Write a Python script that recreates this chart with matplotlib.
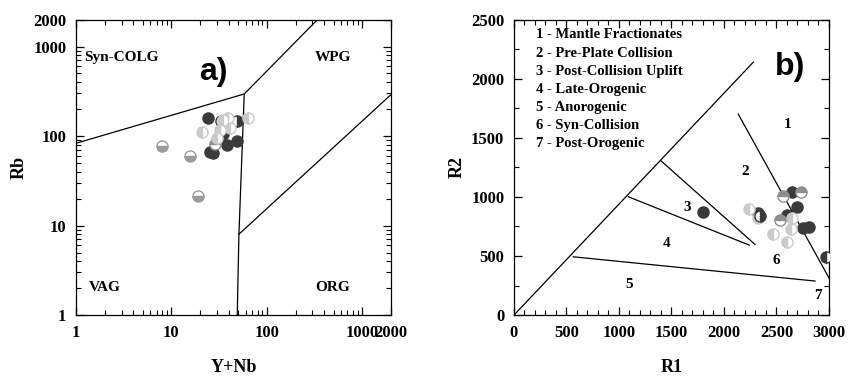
import matplotlib
matplotlib.use("Agg")
import matplotlib.pyplot as plt
from matplotlib.ticker import LogLocator, NullFormatter, FixedLocator, FixedFormatter, MultipleLocator

# ---------------- data: panel a (Pearce et al. Rb vs Y+Nb) ----------------
a_dark_x = [24, 25.5, 27, 35, 38, 49]
a_dark_y = [161, 67, 64, 106, 79, 89]
a_bottom_x = [7.9, 15.7, 18.8]
a_bottom_y = [78, 60, 21.5]
a_left_x = [21, 32, 30, 35, 39, 41, 64]
a_left_y = [112, 117, 95, 150, 157, 124, 157]
a_right_x = [33, 49]
a_right_y = [148, 148]
a_top_x = [28.6]
a_top_y = [82]

# boundary lines panel a
a_line1_x = [1, 58, 340]
a_line1_y = [83, 295, 2000]
a_line2_x = [58, 51, 49]
a_line2_y = [295, 8, 1]
a_line3_x = [51, 2000]
a_line3_y = [8, 290]
a_fields = ["Syn-COLG", "WPG", "VAG", "ORG"]

# ---------------- data: panel b (R1-R2) ----------------
b_dark_x = [1800, 2645, 2698, 2603, 2755, 2813, 2327]
b_dark_y = [870, 1043, 915, 846, 733, 742, 860]
b_right_x = [2345]
b_right_y = [835]
b_leftdark_x = [2971]
b_leftdark_y = [493]
b_top_x = [2565, 2730, 2533]
b_top_y = [1005, 1043, 804]
b_left_x = [2241, 2327, 2470, 2597, 2635, 2650]
b_left_y = [894, 818, 683, 620, 725, 818]

b_lines = [
    ([0, 2280], [0, 2140]),
    ([1400, 2295], [1305, 598]),
    ([1089, 2241], [1001, 592]),
    ([565, 2867], [493, 288]),
    ([2136, 3003], [1700, 310]),
]
b_num_labels = ["1", "2", "3", "4", "5", "6", "7"]
b_num_x = [2603, 2203, 1654, 1454, 1095, 2502, 2898]
b_num_y = [1616, 1212, 911, 607, 260, 465, 169]
b_legend = ["1 - Mantle Fractionates", "2 - Pre-Plate Collision",
            "3 - Post-Collision Uplift", "4 - Late-Orogenic",
            "5 - Anorogenic", "6 - Syn-Collision", "7 - Post-Orogenic"]

DARK = "#3a3a3a"
MID = "#9c9c9c"
LIGHT = "#cacaca"
TOPG = "#8e8e8e"
MS = 8
SERIF = "Liberation Serif"
SANS = "Liberation Sans"

fig = plt.figure(figsize=(8.49, 3.76), dpi=100)
axA = fig.add_axes([0.0895, 0.162, 0.371, 0.786])
axB = fig.add_axes([0.6054, 0.162, 0.371, 0.786])


def markers(ax, xs, ys, fill, face, edge):
    ax.plot(xs, ys, ls="none", marker="o", ms=MS, fillstyle=fill,
            markerfacecolor=face, markerfacecoloralt="white",
            markeredgecolor=edge, markeredgewidth=1.0, zorder=3)


# ---------- panel a ----------
axA.set_xscale("log")
axA.set_yscale("log")
axA.set_xlim(1, 2000)
axA.set_ylim(1, 2000)
axA.plot(a_line1_x, a_line1_y, color="black", lw=0.9)
axA.plot(a_line2_x, a_line2_y, color="black", lw=0.9)
axA.plot(a_line3_x, a_line3_y, color="black", lw=0.9)

markers(axA, a_bottom_x, a_bottom_y, "bottom", MID, MID)
markers(axA, a_dark_x, a_dark_y, "full", DARK, DARK)
markers(axA, a_right_x, a_right_y, "right", DARK, DARK)
markers(axA, a_top_x, a_top_y, "top", TOPG, TOPG)
markers(axA, a_left_x, a_left_y, "left", LIGHT, LIGHT)

tickvals = [1, 10, 100, 1000, 2000]
ticklabs = ["1", "10", "100", "1000", "2000"]
for axis in (axA.xaxis, axA.yaxis):
    axis.set_major_locator(FixedLocator(tickvals))
    axis.set_major_formatter(FixedFormatter(ticklabs))
    axis.set_minor_locator(LogLocator(base=10, subs=range(2, 10)))
    axis.set_minor_formatter(NullFormatter())

axA.text(0.143, 0.873, a_fields[0], transform=axA.transAxes, ha="center", va="center",
         fontsize=11, fontweight="bold", family=SERIF)
axA.text(0.816, 0.873, a_fields[1], transform=axA.transAxes, ha="center", va="center",
         fontsize=11, fontweight="bold", family=SERIF)
axA.text(0.092, 0.095, a_fields[2], transform=axA.transAxes, ha="center", va="center",
         fontsize=11, fontweight="bold", family=SERIF)
axA.text(0.816, 0.095, a_fields[3], transform=axA.transAxes, ha="center", va="center",
         fontsize=11, fontweight="bold", family=SERIF)
axA.text(0.435, 0.822, "a)", transform=axA.transAxes, ha="center", va="center",
         fontsize=23, fontweight="bold", family=SANS)
axA.set_xlabel("Y+Nb", fontsize=13, fontweight="bold", family=SERIF, labelpad=13)
axA.set_ylabel("Rb", fontsize=13, fontweight="bold", family=SERIF, labelpad=4)

# ---------- panel b ----------
axB.set_xlim(0, 3000)
axB.set_ylim(0, 2500)
for xs, ys in b_lines:
    axB.plot(xs, ys, color="black", lw=0.9)

markers(axB, b_dark_x, b_dark_y, "full", DARK, DARK)
markers(axB, b_top_x, b_top_y, "top", TOPG, TOPG)
markers(axB, b_left_x, b_left_y, "left", LIGHT, LIGHT)
markers(axB, b_right_x, b_right_y, "right", DARK, DARK)
markers(axB, b_leftdark_x, b_leftdark_y, "left", DARK, DARK)

for lab, x, y in zip(b_num_labels, b_num_x, b_num_y):
    axB.text(x, y, lab, ha="center", va="center", fontsize=11,
             fontweight="bold", family=SERIF)
for i, lab in enumerate(b_legend):
    axB.text(0.07, 0.948 - i * 0.0612, lab, transform=axB.transAxes,
             ha="left", va="center", fontsize=10.5, fontweight="bold", family=SERIF)
axB.text(0.876, 0.838, "b)", transform=axB.transAxes, ha="center", va="center",
         fontsize=23, fontweight="bold", family=SANS)

axB.xaxis.set_major_locator(MultipleLocator(500))
axB.xaxis.set_minor_locator(MultipleLocator(100))
axB.yaxis.set_major_locator(MultipleLocator(500))
axB.yaxis.set_minor_locator(MultipleLocator(250))
axB.set_xlabel("R1", fontsize=13, fontweight="bold", family=SERIF, labelpad=13)
axB.set_ylabel("R2", fontsize=13, fontweight="bold", family=SERIF, labelpad=4)

for ax in (axA, axB):
    ax.tick_params(which="both", direction="in", top=True, right=True)
    ax.tick_params(which="major", length=6, width=0.9, pad=7)
    ax.tick_params(which="minor", length=3.5, width=0.8)
    for lab in ax.get_xticklabels() + ax.get_yticklabels():
        lab.set_fontfamily(SERIF)
        lab.set_fontweight("bold")
        lab.set_fontsize(12)
    for sp in ax.spines.values():
        sp.set_linewidth(0.9)

fig.savefig("out.png", dpi=100)
